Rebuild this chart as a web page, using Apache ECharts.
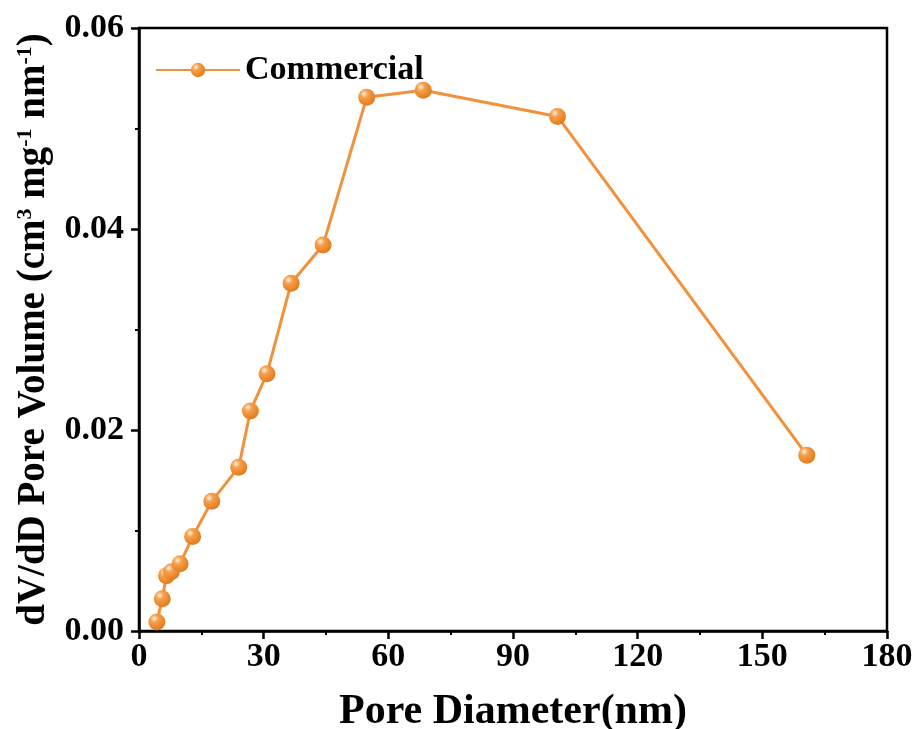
<!DOCTYPE html>
<html>
<head>
<meta charset="utf-8">
<script src="https://cdn.jsdelivr.net/npm/echarts@6/dist/echarts.min.js"></script>
<style>
  html, body { margin: 0; padding: 0; background: #fff; }
  #chart { width: 916px; height: 729px; }
</style>
</head>
<body>
<div id="chart"></div>
<script>
// pore diameter (nm) and dV/dD values
const poreDiameter = [4.3, 5.6, 6.6, 7.8, 9.9, 12.9, 17.5, 24.0, 26.8, 30.8, 36.6, 44.3, 54.8, 68.4, 100.7, 160.7];
const poreVolume = [0.0009, 0.0032, 0.0055, 0.0059, 0.0067, 0.0094, 0.0129, 0.0163, 0.0219, 0.0256, 0.0346, 0.0384, 0.0531, 0.0538, 0.0512, 0.0175];
const seriesName = 'Commercial';

const font = "'Liberation Serif', 'Times New Roman', serif";

const chart = echarts.init(document.getElementById('chart'));

// orange ball with highlight
const ball = new echarts.graphic.RadialGradient(0.35, 0.3, 0.75, [
    { offset: 0, color: '#fff4e6' },
    { offset: 0.3, color: '#f7a04c' },
    { offset: 1, color: '#e07818' }
]);

const points = poreDiameter.map((d, i) => [d, poreVolume[i]]);

const option = {
    backgroundColor: '#fff',
    textStyle: { fontFamily: font },
    grid: {
        left: 139,
        right: 29,
        top: 28,
        bottom: 98,
        outerBoundsMode: 'none',
        containLabel: false,
        show: true,
        borderColor: '#000',
        borderWidth: 2.5
    },
    legend: {
        left: 150,
        top: 48,
        itemWidth: 84,
        itemHeight: 18,
        data: [seriesName],
        textStyle: { fontFamily: font, fontSize: 34, fontWeight: 'bold', color: '#000' }
    },
    xAxis: {
        type: 'value',
        min: 0,
        max: 180,
        interval: 30,
        name: 'Pore Diameter(nm)',
        nameLocation: 'middle',
        nameGap: 60,
        nameTextStyle: { fontFamily: font, fontSize: 42, fontWeight: 'bold', color: '#000' },
        axisLine: { lineStyle: { color: '#000', width: 2.5 } },
        axisTick: { show: true, length: 8, lineStyle: { color: '#000', width: 2.5 } },
        minorTick: { show: true, splitNumber: 2, length: 4, lineStyle: { color: '#000', width: 2 } },
        axisLabel: { fontFamily: font, fontSize: 34, fontWeight: 'bold', color: '#000', margin: 9 },
        splitLine: { show: false }
    },
    yAxis: {
        type: 'value',
        min: 0,
        max: 0.06,
        interval: 0.02,
        name: '{t|dV/dD Pore Volume (cm}{s|3}{t| mg}{s|-1}{t| nm}{s|-1}{t|)}',
        nameLocation: 'middle',
        nameGap: 84,
        nameTextStyle: {
            fontFamily: font, fontWeight: 'bold', color: '#000',
            rich: {
                t: { fontFamily: font, fontSize: 39, fontWeight: 'bold', color: '#000' },
                s: { fontFamily: font, fontSize: 22, fontWeight: 'bold', color: '#000', verticalAlign: 'top', padding: [0, 0, 18, 0] }
            }
        },
        axisLine: { show: true, lineStyle: { color: '#000', width: 2.5 } },
        axisTick: { show: true, length: 8, lineStyle: { color: '#000', width: 2.5 } },
        minorTick: { show: true, splitNumber: 2, length: 4, lineStyle: { color: '#000', width: 2 } },
        axisLabel: {
            fontFamily: font, fontSize: 34, fontWeight: 'bold', color: '#000', margin: 15,
            formatter: v => v.toFixed(2)
        },
        splitLine: { show: false }
    },
    series: [{
        name: seriesName,
        type: 'line',
        data: points,
        symbol: 'circle',
        symbolSize: 17,
        lineStyle: { color: '#f2913c', width: 3 },
        itemStyle: { color: ball, borderWidth: 0 },
        emphasis: { disabled: true }
    }]
};

chart.setOption(option);
</script>
</body>
</html>
